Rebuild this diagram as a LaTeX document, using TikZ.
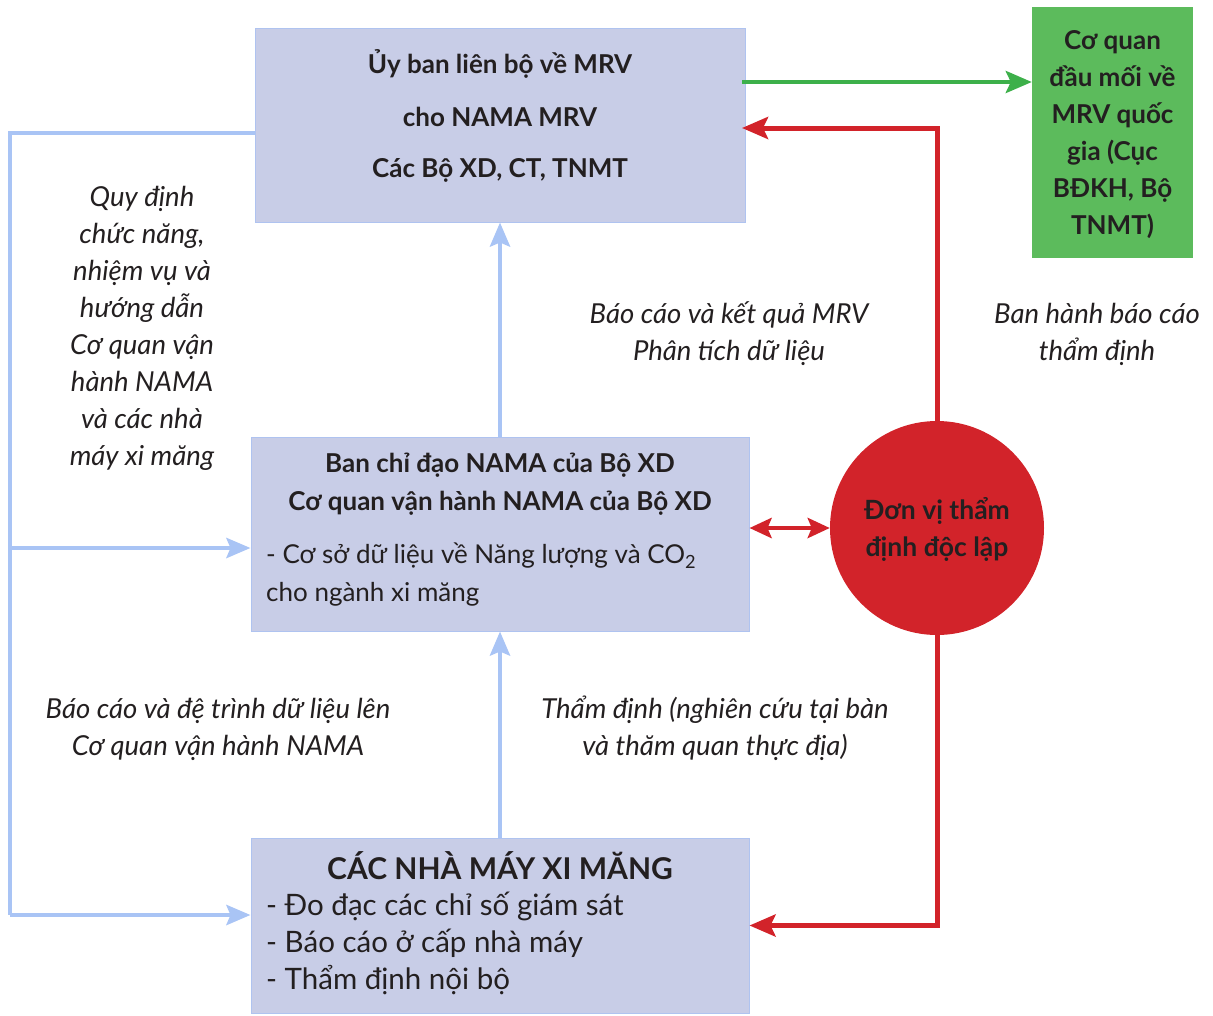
\documentclass[tikz,border=0pt]{standalone}
\usepackage{fontspec}
\setmainfont{Lato}
\usetikzlibrary{arrows.meta}

\definecolor{boxfill}{HTML}{C8CDE7}
\definecolor{boxline}{HTML}{AFC3F0}
\definecolor{flowblue}{HTML}{A9C4F5}
\definecolor{flowred}{HTML}{D2232A}
\definecolor{flowgreen}{HTML}{3DB04A}
\definecolor{greenfill}{HTML}{5CBB5C}
\definecolor{ink}{HTML}{231F20}

\tikzset{
  panel/.style={rectangle, draw=boxline, line width=1pt, fill=boxfill, inner sep=0pt},
  boldtxt/.style={font=\fontsize{26}{37}\selectfont\bfseries, text=ink, align=center, inner sep=0pt},
  plaintxt/.style={font=\fontsize{26}{37}\selectfont, text=ink, align=left, inner sep=0pt, anchor=west},
  listtxt/.style={plaintxt, font=\fontsize{29.5}{37}\selectfont},
  note/.style={font=\fontsize{27.5}{37}\selectfont\itshape, text=ink, align=center, inner sep=0pt},
  bluearrow/.style={draw=flowblue, line width=4.5pt, -{Stealth[length=24pt, width=20pt, inset=4pt]}},
  blueline/.style={draw=flowblue, line width=4.5pt},
  redarrow/.style={draw=flowred, line width=5pt, -{Stealth[length=26pt, width=22pt, inset=5pt]}},
  greenarrow/.style={draw=flowgreen, line width=4.5pt, -{Stealth[length=26pt, width=22pt, inset=5pt]}},
}

\begin{document}
\begin{tikzpicture}[x=1pt, y=-1pt]
\useasboundingbox (0,0) rectangle (1213,1015);

% boxes
\node[panel, minimum width=490pt, minimum height=194pt] (top) at (500,125) {};
\node[panel, minimum width=498pt, minimum height=194pt] (mid) at (500,534) {};
\node[panel, minimum width=498pt, minimum height=175pt] (bot) at (500,925.5) {};
\node[rectangle, fill=greenfill, inner sep=0pt, minimum width=161pt, minimum height=251pt] (nat) at (1112.5,132.5) {};
\node[circle, fill=flowred, inner sep=0pt, minimum size=214pt] (ver) at (937,528) {};

% box texts
\node[boldtxt] (t1) at (500,64) {Ủy ban liên bộ về MRV};
\node[boldtxt] (t2) at (500,117) {cho NAMA MRV};
\node[boldtxt] (t3) at (500,170) {Các Bộ XD, CT, TNMT};

\node[boldtxt] (m1) at (500,465) {Ban chỉ đạo NAMA của Bộ XD};
\node[boldtxt] (m2) at (500,503) {Cơ quan vận hành NAMA của Bộ XD};
\node[plaintxt] (m3) at (266,556) {- Cơ sở dữ liệu về Năng lượng và CO\textsubscript{2}};
\node[plaintxt] (m4) at (266,594) {cho ngành xi măng};

\node[boldtxt, font=\fontsize{30}{37}\selectfont\bfseries] (b1) at (500,866) {CÁC NHÀ MÁY XI MĂNG};
\node[listtxt] (b2) at (266,906) {- Đo đạc các chỉ số giám sát};
\node[listtxt] (b3) at (266,943) {- Báo cáo ở cấp nhà máy};
\node[listtxt] (b4) at (266,980) {- Thẩm định nội bộ};

\node[boldtxt] (g1) at (1112.5,135) {Cơ quan\\đầu mối về\\MRV quốc\\gia (Cục\\BĐKH, Bộ\\TNMT)};

\node[boldtxt, font=\fontsize{26.5}{37}\selectfont\bfseries] (v1) at (937,529) {Đơn vị thẩm\\định độc lập};

% connector labels
\node[note] (q1) at (142,328) {Quy định\\chức năng,\\nhiệm vụ và\\hướng dẫn\\Cơ quan vận\\hành NAMA\\và các nhà\\máy xi măng};
\node[note] (q2) at (729,334) {Báo cáo và kết quả MRV\\Phân tích dữ liệu};
\node[note] (q3) at (1097,334) {Ban hành báo cáo\\thẩm định};
\node[note] (q4) at (218,729) {Báo cáo và đệ trình dữ liệu lên\\Cơ quan vận hành NAMA};
\node[note] (q5) at (715,728) {Thẩm định (nghiên cứu tại bàn\\và thăm quan thực địa)};

% blue connectors
\coordinate (lt) at (10,133);
\coordinate (lm) at (10,548);
\coordinate (lb) at (10,915);
\draw[blueline] (top.west |- lt) -- (lt) -- (lb);
\draw[bluearrow] (lb) -- (bot.west |- lb);
\draw[bluearrow] (lm) -- (mid.west |- lm);
\draw[bluearrow] (bot.north) -- (mid.south);
\draw[bluearrow] (mid.north) -- (top.south);

% green connector
\coordinate (gs) at (742,82);
\draw[greenarrow] (gs) -- (nat.west |- gs);

% red connectors
\coordinate (rt) at (742,128);
\draw[redarrow] (ver.north) |- (rt);
\draw[redarrow] (ver.south) |- (bot.east);
\draw[draw=flowred, line width=4.5pt, {Stealth[length=22pt, width=20pt, inset=4pt]}-{Stealth[length=22pt, width=20pt, inset=4pt]}] (mid.east |- ver.center) -- (ver.west);
\end{tikzpicture}
\end{document}
